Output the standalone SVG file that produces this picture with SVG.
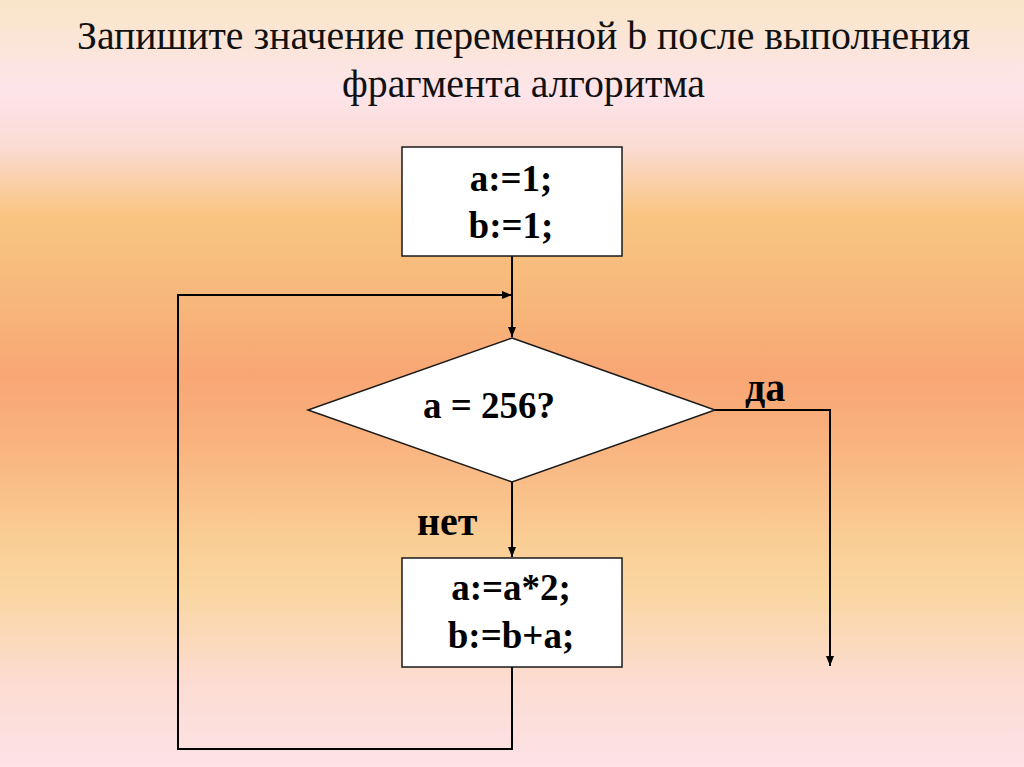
<svg xmlns="http://www.w3.org/2000/svg" width="1024" height="767" viewBox="0 0 1024 767">
  <defs>
    <linearGradient id="bg" x1="0" y1="0" x2="0" y2="1">
      <stop offset="0" stop-color="#f9e6c8"/>
      <stop offset="0.12" stop-color="#fde4ea"/>
      <stop offset="0.19" stop-color="#fbdcd4"/>
      <stop offset="0.28" stop-color="#f8c581"/>
      <stop offset="0.40" stop-color="#f7b67a"/>
      <stop offset="0.49" stop-color="#f8a674"/>
      <stop offset="0.58" stop-color="#f9b37f"/>
      <stop offset="0.70" stop-color="#f9cd94"/>
      <stop offset="0.77" stop-color="#fad6a0"/>
      <stop offset="0.89" stop-color="#fcdcd2"/>
      <stop offset="1" stop-color="#fde2e6"/>
    </linearGradient>
    <marker id="arrow" viewBox="0 0 10 10" refX="10" refY="5" markerWidth="10" markerHeight="10" markerUnits="userSpaceOnUse" orient="auto">
      <path d="M0,1 L10,5 L0,9 Z" fill="#000"/>
    </marker>
    <style>
      .title { font-size: 40px; fill: #111; }
      .code { font-size: 37px; font-weight: bold; fill: #000; text-anchor: middle; }
      .lbl { font-size: 40px; font-weight: bold; fill: #000; }
      .shape { fill: #fff; stroke: #1a1a1a; stroke-width: 1.5; }
      .conn { fill: none; stroke: #000; stroke-width: 2; }
    </style>
  </defs>

  <rect x="0" y="0" width="1024" height="767" fill="url(#bg)"/>

  <g font-family="Liberation Serif, Times New Roman, Times, Noto Serif, DejaVu Serif, serif">
  <g id="title">
    <text class="title" x="77" y="49" textLength="893" lengthAdjust="spacingAndGlyphs">Запишите значение переменной b после выполнения</text>
    <text class="title" x="342" y="97" textLength="363" lengthAdjust="spacingAndGlyphs">фрагмента алгоритма</text>
  </g>

  <g id="connectors">
    <path class="conn" d="M512,256 L512,337" marker-end="url(#arrow)"/>
    <path class="conn" d="M512,667 L512,749 L178,749 L178,295 L512,295" marker-end="url(#arrow)"/>
    <path class="conn" d="M715,410 L830,410 L830,666" marker-end="url(#arrow)"/>
    <path class="conn" d="M512,482 L512,557" marker-end="url(#arrow)"/>
  </g>

  <g id="init">
    <rect class="shape" x="402" y="147" width="220" height="109"/>
    <text class="code" x="511" y="191">a:=1;</text>
    <text class="code" x="511" y="238">b:=1;</text>
  </g>

  <g id="cond">
    <polygon class="shape" points="512,338 715,410 512,482 308,410"/>
    <text class="code" x="489" y="418">a = 256?</text>
  </g>

  <g id="yes-label">
    <text class="lbl" x="745" y="401">да</text>
  </g>

  <g id="no-label">
    <text class="lbl" x="417" y="535">нет</text>
  </g>

  <g id="body">
    <rect class="shape" x="402" y="558" width="220" height="109"/>
    <text class="code" x="511" y="600">a:=a*2;</text>
    <text class="code" x="511" y="648">b:=b+a;</text>
  </g>
  </g>
</svg>
